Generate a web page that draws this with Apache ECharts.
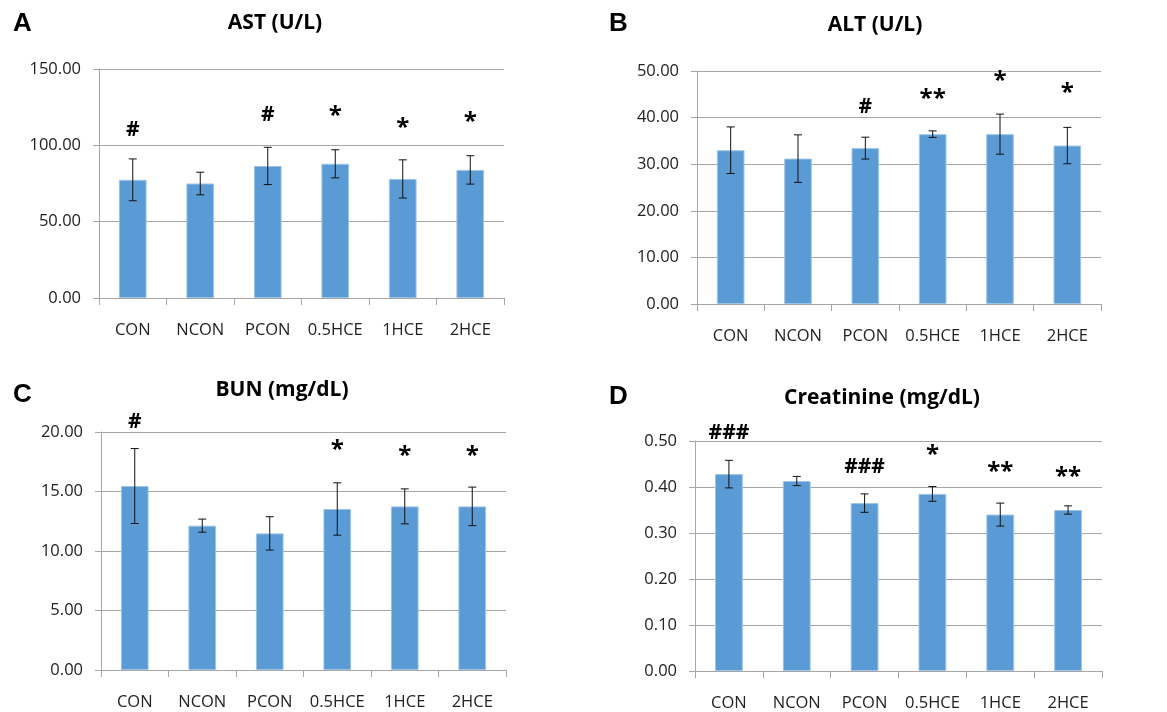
<!DOCTYPE html>
<html>
<head>
<meta charset="utf-8">
<script src="https://cdn.jsdelivr.net/npm/echarts@6/dist/echarts.min.js"></script>
<style>
  html, body { margin: 0; padding: 0; background: #fff; }
  #main { width: 1167px; height: 712px; }
</style>
</head>
<body>
<div id="main"></div>
<script>
const groups = ["CON", "NCON", "PCON", "0.5HCE", "1HCE", "2HCE"];

// A: AST (U/L)
const astMean = [77.4, 75.0, 86.5, 87.9, 78.0, 83.9];
const astErr = [13.7, 7.4, 12.2, 9.2, 12.5, 9.3];
const astMarks = ["#", "", "#", "*", "*", "*"];
const astMarkY = [110, null, 120, 122, 114, 118];

// B: ALT (U/L)
const altMean = [33.0, 31.2, 33.45, 36.45, 36.45, 34.0];
const altErr = [5.0, 5.1, 2.35, 0.7, 4.3, 3.9];
const altMarks = ["", "", "#", "**", "*", "*"];
const altMarkY = [null, null, 42.2, 44.9, 48.7, 46.2];

// C: BUN (mg/dL)
const bunMean = [15.46, 12.13, 11.48, 13.53, 13.75, 13.75];
const bunErr = [3.15, 0.55, 1.4, 2.2, 1.47, 1.62];
const bunMarks = ["#", "", "", "*", "*", "*"];
const bunMarkY = [20.8, null, null, 18.85, 18.3, 18.3];

// D: Creatinine (mg/dL)
const creMean = [0.428, 0.413, 0.365, 0.385, 0.340, 0.350];
const creErr = [0.030, 0.010, 0.020, 0.016, 0.025, 0.009];
const creMarks = ["###", "", "###", "*", "**", "**"];
const creMarkY = [0.518, null, 0.443, 0.478, 0.440, 0.431];

const FONT = "Open Sans";
const panels = [
  { letter: "A", title: "AST (U/L)", mean: astMean, err: astErr, marks: astMarks, markY: astMarkY,
    max: 150, interval: 50, grid: { left: 99, top: 69, width: 405, height: 229 },
    titlePos: { x: 270, y: 8 }, letterPos: { x: 8, y: 6 } },
  { letter: "B", title: "ALT (U/L)", mean: altMean, err: altErr, marks: altMarks, markY: altMarkY,
    max: 50, interval: 10, grid: { left: 697, top: 71, width: 404, height: 233 },
    titlePos: { x: 870, y: 10 }, letterPos: { x: 604, y: 6 } },
  { letter: "C", title: "BUN (mg/dL)", mean: bunMean, err: bunErr, marks: bunMarks, markY: bunMarkY,
    max: 20, interval: 5, grid: { left: 101, top: 432, width: 405, height: 238 },
    titlePos: { x: 277, y: 375 }, letterPos: { x: 8, y: 377 } },
  { letter: "D", title: "Creatinine (mg/dL)", mean: creMean, err: creErr, marks: creMarks, markY: creMarkY,
    max: 0.5, interval: 0.1, grid: { left: 695, top: 441, width: 407, height: 233 },
    titlePos: { x: 877, y: 383 }, letterPos: { x: 604, y: 379 } }
];

const option = {
  animation: false,
  backgroundColor: "#fff",
  textStyle: { fontFamily: FONT },
  title: [],
  grid: [],
  xAxis: [],
  yAxis: [],
  series: []
};

panels.forEach(function (p, i) {
  option.title.push({
    text: p.title, left: p.titlePos.x, top: p.titlePos.y, textAlign: "center",
    textStyle: { fontFamily: FONT, fontSize: 21, fontWeight: "bold", color: "#000" }
  });
  option.title.push({
    text: p.letter, left: p.letterPos.x, top: p.letterPos.y,
    textStyle: { fontFamily: "Liberation Sans", fontSize: 26, fontWeight: "bold", color: "#000" }
  });
  option.grid.push(Object.assign({ containLabel: false }, p.grid));
  option.xAxis.push({
    type: "category", gridIndex: i, data: groups,
    axisLine: { lineStyle: { color: "#A6A6A6", width: 1 } },
    axisTick: { show: true, length: 7, lineStyle: { color: "#A6A6A6" } },
    axisLabel: { interval: 0, color: "#222", fontSize: 16.5, margin: 24, fontFamily: FONT }
  });
  option.yAxis.push({
    type: "value", gridIndex: i, min: 0, max: p.max, interval: p.interval,
    axisLine: { show: true, lineStyle: { color: "#A6A6A6" } },
    axisTick: { show: true, length: 6, lineStyle: { color: "#A6A6A6" } },
    splitLine: { lineStyle: { color: "#A6A6A6", width: 1 } },
    axisLabel: {
      color: "#222", fontSize: 16.5, margin: 18, fontFamily: FONT,
      formatter: function (v) { return v.toFixed(2); }
    }
  });
  option.series.push({
    type: "bar", xAxisIndex: i, yAxisIndex: i, data: p.mean, barWidth: "41%",
    itemStyle: { color: "#5B9BD5", borderColor: "#9DC3E6", borderWidth: 1 }
  });
  option.series.push({
    type: "custom", xAxisIndex: i, yAxisIndex: i, clip: false, z: 5,
    data: p.mean.map(function (m, k) { return [k, m - p.err[k], m + p.err[k]]; }),
    renderItem: function (params, api) {
      const lo = api.coord([api.value(0), api.value(1)]);
      const hi = api.coord([api.value(0), api.value(2)]);
      const w = 4;
      const st = { stroke: "#111", lineWidth: 1 };
      return {
        type: "group",
        children: [
          { type: "line", shape: { x1: hi[0], y1: hi[1], x2: lo[0], y2: lo[1] }, style: st },
          { type: "line", shape: { x1: hi[0] - w, y1: hi[1], x2: hi[0] + w, y2: hi[1] }, style: st },
          { type: "line", shape: { x1: lo[0] - w, y1: lo[1], x2: lo[0] + w, y2: lo[1] }, style: st }
        ]
      };
    }
  });
  option.series.push({
    type: "custom", xAxisIndex: i, yAxisIndex: i, clip: false, z: 6,
    data: p.markY.map(function (y, k) { return [k, y === null ? 0 : y, k]; })
      .filter(function (d) { return p.marks[d[2]] !== ""; }),
    renderItem: function (params, api) {
      const c = api.coord([api.value(0), api.value(1)]);
      const txt = p.marks[api.value(2)];
      const star = txt.indexOf("*") >= 0;
      return {
        type: "text",
        style: {
          x: c[0], y: c[1] + (star ? 4 : 0), text: txt, align: "center", verticalAlign: "middle",
          fill: "#000", fontFamily: FONT,
          fontSize: star ? 24 : 21, fontWeight: "bold"
        }
      };
    }
  });
});

const chart = echarts.init(document.getElementById("main"));
chart.setOption(option);
</script>
</body>
</html>
